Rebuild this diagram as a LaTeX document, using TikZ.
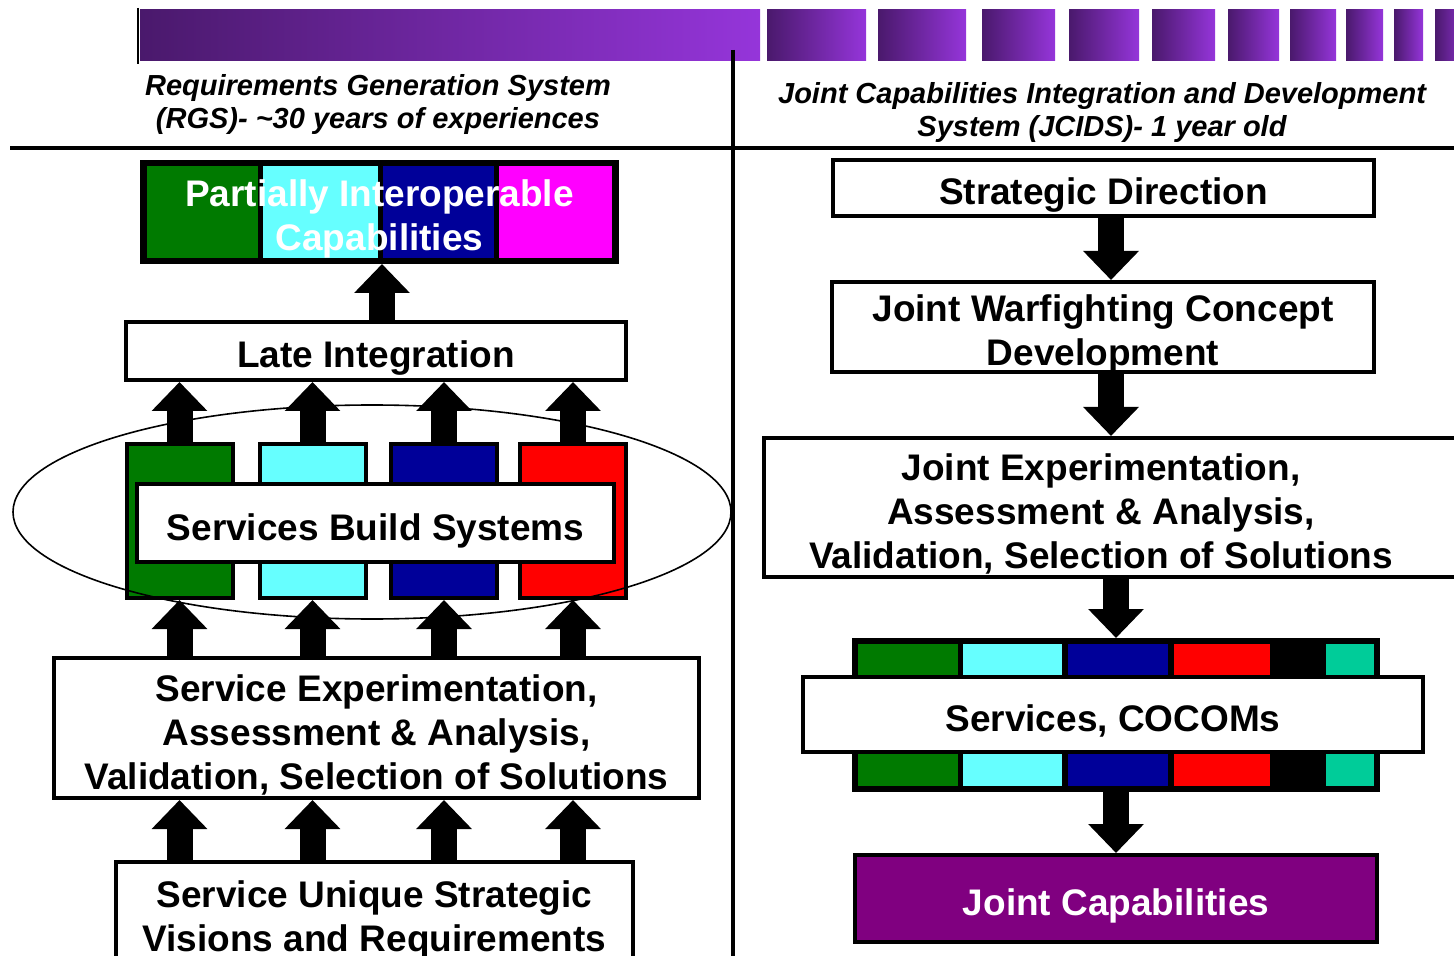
\documentclass[tikz,border=0pt]{standalone}
\usepackage{fontspec}
\setmainfont{Liberation Sans}
\usetikzlibrary{arrows.meta}
\definecolor{pgreen}{HTML}{007A00}
\definecolor{pcyan}{HTML}{66FFFF}
\definecolor{pnavy}{HTML}{000099}
\definecolor{pmag}{HTML}{FF00FF}
\definecolor{pred}{HTML}{FF0000}
\definecolor{pteal}{HTML}{00CC99}
\definecolor{ppurple}{HTML}{800080}
\definecolor{bardark}{HTML}{4A196C}
\definecolor{barlight}{HTML}{9535DA}
\newcommand{\boxfont}{\fontsize{18.5}{22}\selectfont\bfseries}
\newcommand{\headfont}{\fontsize{14.5}{16.5}\selectfont\bfseries\itshape}
\newcommand{\up}{\rule{0pt}{17pt}}
\tikzstyle{frame}=[draw=black, line width=2pt, inner sep=0pt, text depth=-3pt, execute at begin node={\up}]
\tikzstyle{box}=[frame, fill=white, align=center, font=\boxfont]
\tikzstyle{bar}=[frame, minimum width=53pt, minimum height=77pt]
\tikzstyle{head}=[align=center, font=\headfont]
\tikzstyle{fat}=[line width=13pt, -{Triangle[length=14.5pt, width=27pt]}]
\tikzstyle{grad}=[left color=bardark, right color=barlight]

\begin{document}
\begin{tikzpicture}[x=0.5pt, y=-0.5pt]
    \useasboundingbox (0,0) rectangle (1454,956);

    % time bar
    \shade[grad] (140,10) rectangle (760,61);
    \foreach \a/\b in {767/866, 878/966, 982/1055, 1069/1139, 1152/1215, 1228/1279, 1290/1336, 1346/1383, 1394/1423, 1435/1470}
        \shade[grad] (\a,10) rectangle (\b,61);
    \draw[line width=1pt] (138,8) -- (138,64);
    \draw[line width=2pt] (733,50) -- (733,960);
    \draw[line width=2pt] (10,148) -- (1460,148);

    \node (rgs) [head] at (378,105) {Requirements Generation System\\(RGS)- \textasciitilde30 years of experiences};
    \node (jcids) [head] at (1102,113) {Joint Capabilities Integration and Development\\System (JCIDS)- 1 year old};

    % RGS side
    \fill (142,162) rectangle (617,262);
    \foreach \c/\a/\b in {pgreen/147/258, pcyan/263/378, pnavy/383/494, pmag/499/612}
        \fill[\c] (\a,166) rectangle (\b,258);
    \node (pic) [frame, minimum width=237.5pt, minimum height=50pt, align=center, font=\boxfont, text=white] at (379.5,212) {\up Partially Interoperable\\Capabilities};
    \node (li) [box, minimum width=250pt, minimum height=29pt] at (376,351) {Late Integration};

    \node (b1) [bar, fill=pgreen] at (179.5,521) {};
    \node (b2) [bar, fill=pcyan] at (312.5,521) {};
    \node (b3) [bar, fill=pnavy] at (444,521) {};
    \node (b4) [bar, fill=pred] at (573,521) {};
    \draw[line width=0.8pt] (372,512) ellipse [x radius=359, y radius=107];
    \node (sbs) [box, minimum width=238.5pt, minimum height=39pt] at (375.5,523) {Services Build Systems};

    \node (seaa) [box, minimum width=322.5pt, minimum height=70pt] at (376.5,728) {\up Service Experimentation,\\Assessment \& Analysis,\\Validation, Selection of Solutions};
    \node (susvr) [box, minimum width=258.5pt, minimum height=50pt] at (374.5,912) {\up Service Unique Strategic\\Visions and Requirements};

    \draw[fat] ([xshift=3pt]li.north) -- ([xshift=3pt]li.north |- pic.south);
    \foreach \i in {1,...,4} {
        \draw[fat] (b\i.north) -- (b\i.north |- li.south);
        \draw[fat] (b\i.south |- seaa.north) -- (b\i.south);
        \draw[fat] (b\i.south |- susvr.north) -- (b\i.south |- seaa.south);
    }

    % JCIDS side
    \node (sd) [box, minimum width=270.5pt, minimum height=28pt] at (1103.5,188) {Strategic Direction};
    \node (jwcd) [box, minimum width=271pt, minimum height=45pt] at (1103,327) {\up Joint Warfighting Concept\\Development};
    \node (jeaa) [frame, fill=white, minimum width=358pt, minimum height=69.5pt] at (1122,507.5) {};
    \node (jeaat) [align=center, font=\boxfont] at (1101,514) {Joint Experimentation,\\Assessment \& Analysis,\\Validation, Selection of Solutions};

    \node (strip) [frame, fill=black, minimum width=262pt, minimum height=75pt] at (1116,715) {};
    \foreach \c/\a/\b in {pgreen/858/958, pcyan/963/1062, pnavy/1068/1168, pred/1174/1270, pteal/1326/1374}
        \fill[\c] (\a,644) rectangle (\b,786);
    \node (coc) [box, minimum width=310pt, minimum height=37.5pt] at (1113,714.5) {Services, COCOMs};
    \node (jc) [frame, fill=ppurple, text=white, font=\boxfont, minimum width=261pt, minimum height=43.5pt] at (1116,898.5) {Joint Capabilities};

    \draw[fat] ([xshift=3.75pt]sd.south) -- ([xshift=3.75pt]sd.south |- jwcd.north);
    \draw[fat] ([xshift=4pt]jwcd.south) -- ([xshift=4pt]jwcd.south |- jeaa.north);
    \draw[fat] (strip.north |- jeaa.south) -- (strip.north);
    \draw[fat] (strip.south) -- (jc.north);
\end{tikzpicture}
\end{document}
